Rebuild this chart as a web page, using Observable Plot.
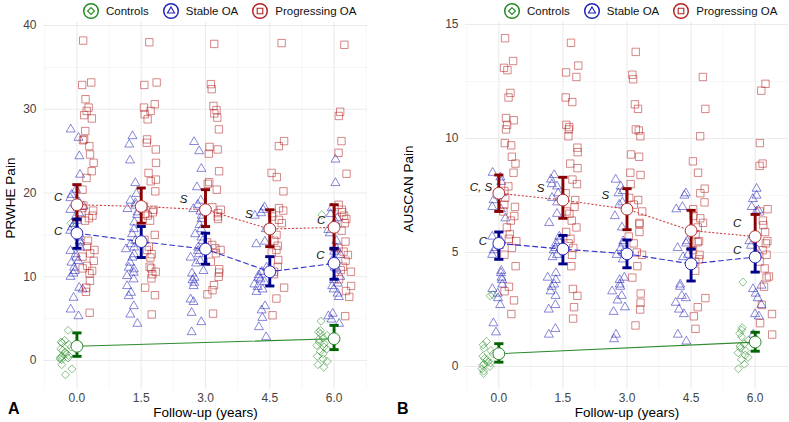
<!DOCTYPE html>
<html><head><meta charset="utf-8">
<script src="https://cdn.jsdelivr.net/npm/d3@7"></script>
<script src="https://cdn.jsdelivr.net/npm/@observablehq/plot@0.6"></script>
<style>
body{margin:0;background:#fff;font-family:"Liberation Sans",Arial,sans-serif;}
#wrap{position:relative;width:789px;height:422px;overflow:hidden;background:#fff;}
.panel{position:absolute;top:0;}
.legend{position:absolute;top:2px;height:18px;display:flex;align-items:center;font-size:11.5px;color:#111;white-space:nowrap;}
.legend .item{display:flex;align-items:center;margin-right:13px;}
.legend svg{margin-right:6px;}
.tag{position:absolute;font-weight:bold;font-size:16px;color:#000;line-height:1;}
</style></head><body><div id="wrap"></div>
<script>
// ---------------- data ----------------
const times = [0, 1.5, 3, 4.5, 6];
const timeLabels = ["0.0", "1.5", "3.0", "4.5", "6.0"];
const groups = ["Controls", "Stable OA", "Progressing OA"];

// Panel A: PRWHE Pain (individual values, per time point)
const prwheControls = [
  [16.4, 3.6, 2.4, 2.2, 2.1, 1.9, 1.6, 1.4, 1.2, 1.0, 0.8, 0.6, 0.5, 0.4, 0.3, 0.2, 0.1, -0.5, -1.0, -1.7],
  null, null, null,
  [17.4, 4.7, 3.6, 3.4, 3.2, 3.0, 2.7, 2.5, 2.2, 2.0, 1.8, 1.6, 1.4, 1.1, 0.8, 0.5, 0.2, -0.1, -0.5, -0.8]
];
const prwheStable = [
  [27.6, 26.6, 24.4, 22.2, 20.4, 19.8, 19.4, 18.9, 18.4, 18.0, 17.6, 17.2, 16.7, 16.3, 15.9, 15.5, 15.1, 14.7, 14.3, 14.1, 13.5, 13.1, 12.7, 12.3, 11.9, 11.7, 11.1, 10.7, 10.4, 10.0, 8.7, 8.5, 7.5, 6.1, 5.3],
  [26.8, 25.8, 23.9, 21.2, 19.9, 19.1, 18.8, 18.5, 18.1, 17.7, 17.4, 16.5, 15.7, 15.1, 14.3, 13.9, 13.5, 13.3, 12.7, 12.3, 11.7, 11.1, 10.9, 10.5, 10.1, 9.7, 8.9, 8.1, 7.7, 6.5, 5.5, 4.4],
  [26.1, 25.0, 22.9, 20.7, 19.1, 18.6, 18.1, 17.8, 17.3, 16.9, 16.2, 15.7, 15.1, 14.7, 14.3, 13.5, 13.1, 12.7, 12.3, 11.9, 11.6, 10.7, 10.4, 9.9, 9.6, 9.3, 8.9, 7.3, 7.0, 5.7, 4.6, 3.4],
  [18.3, 18.0, 17.6, 17.3, 15.7, 14.2, 13.9, 11.1, 10.6, 10.2, 9.9, 9.7, 9.4, 9.1, 8.8, 8.5, 8.2, 6.5, 6.0, 5.1, 4.0, 2.8],
  [24.0, 21.2, 18.2, 17.5, 17.0, 16.6, 15.6, 15.2, 14.3, 13.4, 13.0, 12.6, 11.9, 11.1, 10.9, 10.0, 9.6, 9.2, 8.9, 8.5, 8.0, 7.6, 5.6, 5.3, 4.9, 4.4]
];
const prwheProgressing = [
  [38.2, 33.2, 32.9, 31.2, 30.2, 29.8, 29.3, 28.9, 27.4, 26.4, 26.3, 25.6, 24.6, 23.6, 22.6, 21.8, 20.4, 18.5, 18.2, 17.9, 17.6, 17.3, 17.0, 16.7, 14.3, 13.6, 13.2, 12.8, 12.4, 11.9, 11.3, 11.0, 10.7, 10.4, 9.5, 8.7, 8.2, 5.7],
  [38.0, 33.2, 32.9, 30.6, 30.2, 29.8, 29.4, 28.8, 26.4, 26.0, 25.2, 23.6, 22.4, 21.6, 21.4, 20.2, 18.4, 18.0, 17.7, 17.5, 17.3, 16.7, 15.0, 14.4, 13.6, 13.2, 12.7, 12.3, 11.2, 11.0, 10.6, 10.3, 9.8, 8.7, 7.8, 5.5],
  [37.8, 33.0, 32.4, 30.4, 29.9, 29.5, 29.0, 27.6, 25.5, 25.2, 24.7, 22.6, 21.3, 21.1, 20.4, 18.3, 18.0, 17.6, 17.2, 16.9, 14.1, 13.8, 13.4, 13.2, 12.8, 11.8, 10.9, 10.5, 10.0, 9.0, 8.4, 7.9, 5.6],
  [37.9, 26.2, 25.6, 22.4, 21.9, 20.2, 18.2, 17.9, 17.6, 17.2, 16.8, 16.4, 15.0, 14.3, 13.7, 13.2, 12.9, 12.0, 11.2, 10.6, 10.3, 8.7, 7.4, 5.4],
  [37.7, 29.7, 29.2, 26.2, 24.8, 22.3, 18.6, 18.0, 17.7, 17.3, 16.9, 16.4, 15.5, 14.2, 13.4, 13.0, 12.6, 11.9, 11.2, 10.8, 10.6, 9.7, 8.9, 8.3, 7.6, 5.3]
];
// group means and error-bar limits (rows: Controls, Stable OA, Progressing OA)
const prwheMean = [[1.7, null, null, null, 2.6], [15.2, 14.2, 13.3, 10.6, 11.6], [18.6, 18.4, 18.0, 15.7, 15.9]];
const prwheLow  = [[0.5, null, null, null, 1.3], [13.4, 12.3, 11.5, 8.9, 9.7], [16.8, 16.4, 16.0, 13.6, 13.3]];
const prwheHigh = [[3.3, null, null, null, 4.2], [16.9, 16.0, 15.2, 12.4, 13.4], [21.0, 20.6, 20.4, 18.0, 18.6]];
const prwheNoteText = ["C", "C", "S", "S", "C", "C"];
const prwheNoteX = [-0.44, -0.44, 2.49, 4.01, 5.70, 5.68];
const prwheNoteY = [19.5, 15.4, 19.2, 17.5, 16.7, 12.6];
const prwheTicks = [0, 10, 20, 30, 40];
const prwheMinor = [5, 15, 25, 35];

// Panel B: AUSCAN Pain
const auscanControls = [
  [3.15, 3.1, 1.1, 0.95, 0.8, 0.7, 0.55, 0.45, 0.35, 0.3, 0.2, 0.15, 0.1, 0.05, 0.0, -0.1, -0.2, -0.3],
  null, null, null,
  [3.7, 1.7, 1.6, 1.45, 1.3, 1.15, 1.0, 0.9, 0.8, 0.7, 0.6, 0.5, 0.4, 0.3, 0.1, -0.1]
];
const auscanStable = [
  [8.5, 8.3, 8.1, 7.6, 7.5, 7.3, 7.0, 6.9, 6.5, 5.7, 5.5, 5.4, 5.3, 5.2, 5.1, 4.9, 4.2, 4.1, 3.9, 3.8, 3.6, 3.4, 3.2, 3.0, 2.7, 1.9, 1.5],
  [8.4, 8.2, 8.0, 7.9, 7.6, 7.4, 7.2, 6.7, 6.3, 5.7, 5.5, 5.4, 5.2, 5.1, 4.9, 4.8, 4.1, 3.9, 3.8, 3.6, 3.5, 3.3, 3.1, 2.7, 2.5, 1.65, 1.4],
  [8.2, 7.9, 7.7, 7.6, 7.2, 7.1, 6.6, 6.1, 5.5, 5.4, 5.2, 5.0, 4.9, 4.7, 3.9, 3.8, 3.6, 3.5, 3.3, 3.1, 2.9, 2.6, 2.4, 1.4, 1.2],
  [7.6, 7.5, 7.0, 6.9, 5.5, 5.4, 5.2, 4.9, 4.8, 3.6, 3.5, 3.1, 3.0, 2.8, 2.5, 2.3, 1.4, 1.1],
  [7.8, 7.5, 7.35, 7.0, 6.85, 6.8, 5.5, 5.3, 5.1, 4.9, 4.8, 3.55, 3.4, 3.2, 3.0, 2.7, 2.3, 2.2, 1.4]
];
const auscanProgressing = [
  [14.4, 13.4, 13.1, 13.0, 12.0, 11.8, 10.9, 10.8, 10.6, 10.4, 9.8, 9.7, 9.2, 8.9, 8.5, 7.9, 7.7, 7.4, 7.1, 7.0, 6.8, 6.6, 6.4, 6.1, 5.8, 5.6, 5.5, 5.2, 4.9, 4.4, 3.5, 3.3, 2.9, 2.3],
  [14.2, 13.2, 12.9, 12.7, 11.8, 11.6, 10.6, 10.5, 10.4, 10.1, 9.6, 9.4, 8.9, 8.7, 8.2, 8.0, 7.6, 7.3, 7.0, 6.8, 6.7, 6.4, 6.1, 5.9, 5.6, 5.4, 5.2, 4.9, 4.4, 3.4, 3.1, 2.6, 2.1],
  [13.8, 12.8, 12.6, 11.5, 11.3, 10.4, 10.35, 10.1, 9.3, 9.2, 8.5, 8.4, 8.0, 7.4, 7.3, 7.1, 6.8, 6.3, 6.25, 5.9, 5.7, 5.4, 5.0, 4.9, 4.4, 3.9, 3.2, 2.8, 2.5, 1.8],
  [12.7, 11.3, 10.1, 9.0, 8.5, 7.8, 7.6, 7.2, 6.9, 6.6, 6.5, 6.3, 6.1, 5.8, 5.5, 5.45, 5.1, 4.9, 4.7, 4.6, 4.2, 3.0, 2.6, 2.2, 1.65],
  [12.4, 12.1, 9.8, 8.9, 8.8, 6.9, 6.8, 6.4, 6.2, 5.9, 5.5, 5.4, 5.1, 4.9, 4.6, 4.3, 3.95, 3.9, 3.5, 2.7, 2.3, 1.9, 1.4]
];
const auscanMean = [[0.56, null, null, null, 1.07], [5.4, 5.15, 4.94, 4.5, 4.8], [7.6, 7.3, 6.9, 5.96, 5.7]];
const auscanLow  = [[0.19, null, null, null, 0.67], [4.7, 4.5, 4.33, 3.75, 4.14], [6.8, 6.5, 6.0, 5.16, 4.94]];
const auscanHigh = [[1.0, null, null, null, 1.5], [5.9, 5.75, 5.55, 5.15, 5.67], [8.4, 8.3, 7.8, 6.85, 6.67]];
const auscanNoteText = ["C, S", "C", "S", "S", "C", "C"];
const auscanNoteX = [-0.42, -0.37, 0.98, 2.49, 5.58, 5.58];
const auscanNoteY = [7.85, 5.5, 7.8, 7.5, 6.3, 5.1];
const auscanTicks = [0, 5, 10, 15];
const auscanMinor = [2.5, 7.5, 12.5];

// ---------------- styling ----------------
const pointColor = ["#228B22", "#2222BB", "#B22222"];
const barColor = ["#006400", "#00008B", "#8B0000"];
const ringColor = ["#2E8B2E", "#2B2BC0", "#B53030"];
const lineColor = ["#2E8B2E", "#3333CC", "#CC4444"];
const lineDash = [null, "5,3.5", "1.3,2.6"];
const symbols = ["diamond2", "triangle2", "square2"];
const symbolR = [3.6, 4.3, 4.7];
const cap = {draw(ctx, size) { const w = Math.sqrt(size / Math.PI); ctx.moveTo(-w, 0); ctx.lineTo(w, 0); }};

function jitter(k, ti, gi) {
  const s = Math.sin(k * 127.1 + ti * 311.7 + gi * 74.7 + 1.3) * 43758.5453;
  return (s - Math.floor(s)) - 0.5;
}

function panel(cfg) {
  const pts = [cfg.controls, cfg.stable, cfg.progressing];
  const rows = [];
  times.forEach((t, ti) => {
    const present = [0, 1, 2].filter(g => pts[g][ti]);
    const centers = present.length === 3 ? [-0.27, 0, 0.26] : [-0.2, 0.2];
    present.forEach((g, pi) => {
      pts[g][ti].forEach((v, k) => rows.push({g, t: t + centers[pi] + 0.32 * jitter(k, ti, g), v}));
    });
  });
  const stats = [];
  [0, 1, 2].forEach(g => times.forEach((t, ti) => {
    if (cfg.mean[g][ti] != null) stats.push({g, t, m: cfg.mean[g][ti], lo: cfg.low[g][ti], hi: cfg.high[g][ti]});
  }));
  const notes = cfg.noteText.map((s, i) => ({s, x: cfg.noteX[i], y: cfg.noteY[i]}));
  const marks = [
    Plot.ruleY(cfg.minor, {stroke: "#F2F2F2", strokeWidth: 0.7}),
    Plot.ruleX([-0.75, 0.75, 2.25, 3.75, 5.25, 6.75], {stroke: "#F2F2F2", strokeWidth: 0.7}),
    Plot.ruleY(cfg.ticks, {stroke: "#EBEBEB", strokeWidth: 1.1}),
    Plot.ruleX(times, {stroke: "#EBEBEB", strokeWidth: 1.1}),
  ];
  [0, 1, 2].forEach(g => marks.push(Plot.dot(rows.filter(r => r.g === g), {
    x: "t", y: "v", symbol: symbols[g], r: symbolR[g], stroke: pointColor[g], fill: "none",
    strokeOpacity: 0.6, strokeWidth: 0.9
  })));
  [0, 1, 2].forEach(g => marks.push(Plot.line(stats.filter(s => s.g === g), {
    x: "t", y: "m", stroke: lineColor[g], strokeWidth: 1.1, strokeDasharray: lineDash[g]
  })));
  [2, 1, 0].forEach(g => {
    const d = stats.filter(s => s.g === g);
    marks.push(Plot.ruleX(d, {x: "t", y1: "lo", y2: "hi", stroke: barColor[g], strokeWidth: 2.9}));
    marks.push(Plot.dot(d, {x: "t", y: "hi", symbol: cap, r: 4.6, stroke: barColor[g], fill: "none", strokeWidth: 2.9}));
    marks.push(Plot.dot(d, {x: "t", y: "lo", symbol: cap, r: 4.6, stroke: barColor[g], fill: "none", strokeWidth: 2.9}));
  });
  [2, 1, 0].forEach(g => marks.push(Plot.dot(stats.filter(s => s.g === g), {
    x: "t", y: "m", r: 5.9, fill: "white", stroke: ringColor[g], strokeWidth: 1
  })));
  marks.push(Plot.text(notes, {x: "x", y: "y", text: "s", fontStyle: "italic", fontSize: 11.5, fill: "#111"}));
  marks.push(Plot.text([cfg.yLabel], {text: d => d, frameAnchor: "left", textAnchor: "middle", lineAnchor: "middle",
    rotate: -90, dx: cfg.yLabelDx, dy: cfg.yLabelDy, fontSize: 13.5, fill: "#000"}));
  marks.push(Plot.text(["Follow-up (years)"], {text: d => d, frameAnchor: "bottom", textAnchor: "middle",
    lineAnchor: "middle", dy: 23, fontSize: 13.5, fill: "#000"}));
  return Plot.plot({
    width: cfg.width, height: 422,
    marginLeft: cfg.marginLeft, marginRight: cfg.marginRight, marginTop: 22, marginBottom: 33,
    style: {fontFamily: "Liberation Sans, Arial, sans-serif", fontSize: "12px", color: "#444", background: "transparent", overflow: "visible"},
    x: {type: "linear", domain: [-0.78, 6.78], ticks: times, tickFormat: d => timeLabels[times.indexOf(d)], tickSize: 0, tickPadding: 4, label: null},
    y: {domain: cfg.yDomain, ticks: cfg.ticks, tickSize: 0, tickPadding: 7, label: null},
    marks
  });
}

const wrap = document.getElementById("wrap");
const a = panel({controls: prwheControls, stable: prwheStable, progressing: prwheProgressing,
  mean: prwheMean, low: prwheLow, high: prwheHigh, noteText: prwheNoteText, noteX: prwheNoteX, noteY: prwheNoteY,
  ticks: prwheTicks, minor: prwheMinor, yDomain: [-3.46, 40.36], yLabel: "PRWHE Pain",
  width: 394, marginLeft: 43, marginRight: 27, yLabelDx: -33, yLabelDy: -8});
a.classList.add("panel"); a.style.left = "0px";
const b = panel({controls: auscanControls, stable: auscanStable, progressing: auscanProgressing,
  mean: auscanMean, low: auscanLow, high: auscanHigh, noteText: auscanNoteText, noteX: auscanNoteX, noteY: auscanNoteY,
  ticks: auscanTicks, minor: auscanMinor, yDomain: [-1.01, 15.09], yLabel: "AUSCAN Pain",
  width: 395, marginLeft: 71, marginRight: 1, yLabelDx: -57, yLabelDy: -17});
b.classList.add("panel"); b.style.left = "394px";
wrap.appendChild(a); wrap.appendChild(b);

// legends
function legend(left) {
  const div = document.createElement("div");
  div.className = "legend"; div.style.left = left + "px";
  groups.forEach((name, g) => {
    const item = document.createElement("div"); item.className = "item";
    const svg = d3.create("svg").attr("width", 18).attr("height", 18);
    svg.append("circle").attr("cx", 9).attr("cy", 9).attr("r", 7.3).attr("fill", "white")
      .attr("stroke", pointColor[g]).attr("stroke-width", 1.5);
    const sym = [d3.symbolDiamond2, d3.symbolTriangle2, d3.symbolSquare2][g];
    svg.append("path").attr("transform", "translate(9,9)").attr("d", d3.symbol(sym, [30, 36, 40][g])())
      .attr("fill", "none").attr("stroke", pointColor[g]).attr("stroke-width", 1.1);
    item.appendChild(svg.node());
    const span = document.createElement("span"); span.textContent = name; item.appendChild(span);
    div.appendChild(item);
  });
  wrap.appendChild(div);
}
legend(82); legend(503);

function tag(text, left) {
  const d = document.createElement("div"); d.className = "tag"; d.textContent = text;
  d.style.left = left + "px"; d.style.top = "401px"; wrap.appendChild(d);
}
tag("A", 8); tag("B", 397);
</script>
</body></html>
